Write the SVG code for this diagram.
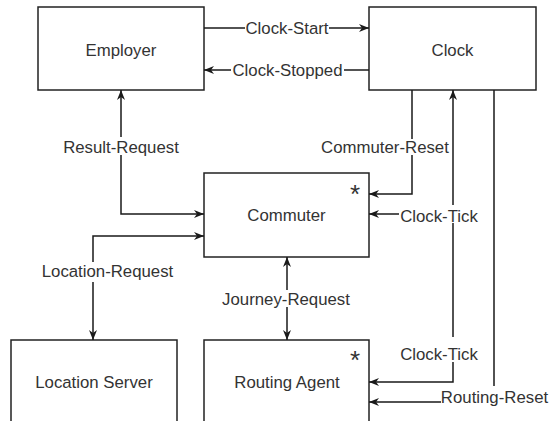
<svg xmlns="http://www.w3.org/2000/svg" width="552" height="421" viewBox="0 0 552 421">
<style>
.box{fill:#fff;stroke:#222;stroke-width:1.5}
.lbl{font-family:"Liberation Sans",Arial,Helvetica,sans-serif;font-size:16.8px;fill:#333;text-anchor:middle}
.edge{fill:none;stroke:#1a1a1a;stroke-width:1.5}
.bg{fill:#fff}
.star{font-family:"Liberation Sans",Arial,Helvetica,sans-serif;font-size:26px;fill:#333;text-anchor:middle}
</style>
<defs>
<marker id="arr" viewBox="0 0 10 8" refX="10" refY="4" markerWidth="10" markerHeight="8" markerUnits="userSpaceOnUse" orient="auto-start-reverse">
<path d="M0,0 L10,4 L0,8 L3,4 Z" fill="#1a1a1a"/>
</marker>
</defs>
<rect width="552" height="421" fill="#fff"/>
<g id="nodes">
<g id="employer"><rect class="box" x="38" y="7" width="166" height="83"/><text class="lbl" x="121" y="56">Employer</text></g>
<g id="clock"><rect class="box" x="369" y="7" width="167" height="83"/><text class="lbl" x="452.5" y="56">Clock</text></g>
<g id="commuter"><rect class="box" x="204" y="173" width="165" height="84"/><text class="lbl" x="286.5" y="221">Commuter</text><text class="star" x="355" y="203">*</text></g>
<g id="location-server"><rect class="box" x="11" y="340" width="166" height="95"/><text class="lbl" x="94" y="388">Location Server</text></g>
<g id="routing-agent"><rect class="box" x="204" y="340" width="165" height="95"/><text class="lbl" x="287" y="388">Routing Agent</text><text class="star" x="355" y="369">*</text></g>
</g>
<g id="connectors">
<path class="edge" d="M204,28 H369" marker-end="url(#arr)"/>
<path class="edge" d="M369,70 H204" marker-end="url(#arr)"/>
<path class="edge" d="M121,90 V214 H204" marker-start="url(#arr)" marker-end="url(#arr)"/>
<path class="edge" d="M204,236 H93 V340" marker-start="url(#arr)" marker-end="url(#arr)"/>
<path class="edge" d="M287,257 V340" marker-start="url(#arr)" marker-end="url(#arr)"/>
<path class="edge" d="M412,90 V194 H369" marker-end="url(#arr)"/>
<path class="edge" d="M453,214 H369" marker-end="url(#arr)"/>
<path class="edge" d="M453,90 V382 H369" marker-start="url(#arr)" marker-end="url(#arr)"/>
<path class="edge" d="M494,90 V402 H369" marker-end="url(#arr)"/>
<g id="edge-labels">
<rect class="bg" x="245" y="19" width="84" height="18"/><text class="lbl" x="287" y="34">Clock-Start</text>
<rect class="bg" x="231" y="61" width="113" height="18"/><text class="lbl" x="287.5" y="76">Clock-Stopped</text>
<rect class="bg" x="62" y="137" width="119" height="18"/><text class="lbl" x="121" y="153">Result-Request</text>
<rect class="bg" x="320" y="139" width="130" height="16"/><text class="lbl" x="385" y="153">Commuter-Reset</text>
<rect class="bg" x="399" y="205" width="80" height="18"/><text class="lbl" x="439" y="222">Clock-Tick</text>
<rect class="bg" x="40" y="262" width="135" height="20"/><text class="lbl" x="107.5" y="277">Location-Request</text>
<rect class="bg" x="220" y="290" width="132" height="17"/><text class="lbl" x="286" y="305">Journey-Request</text>
<rect class="bg" x="399" y="337" width="80" height="25"/><text class="lbl" x="439" y="360">Clock-Tick</text>
<rect class="bg" x="441" y="386" width="108" height="22"/><text class="lbl" x="494.5" y="403">Routing-Reset</text>
</g>
</g>
</svg>
